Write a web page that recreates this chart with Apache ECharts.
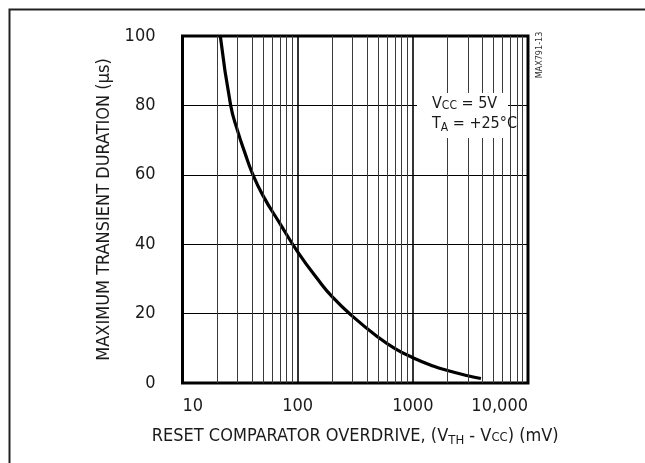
<!DOCTYPE html>
<html>
<head>
<meta charset="utf-8">
<script src="https://cdn.jsdelivr.net/npm/echarts@6/dist/echarts.min.js"></script>
<style>html,body{margin:0;padding:0;background:#fff}#c{width:645px;height:463px}</style>
</head>
<body>
<div id="c"></div>
<script>
// Data
const overdrive_mV = [21.3, 26.2, 30, 35, 40, 50, 70, 100, 150, 200, 300, 500, 700, 1000, 1500, 2000, 3000, 3900];
const duration_us  = [100, 80, 72.8, 66.1, 60.8, 54.0, 46.0, 37.8, 29.8, 24.8, 19.2, 13.2, 9.9, 7.3, 4.9, 3.6, 2.1, 1.3];
const xTickLabels = {10: '10', 100: '100', 1000: '1000', 10000: '10,000'};
const yTicks = [0, 20, 40, 60, 80, 100];
const minorX = [20,30,40,50,60,70,80,90,200,300,400,500,600,700,800,900,2000,3000,4000,5000,6000,7000,8000,9000];

const FONT = '"Liberation Sans Narrow","DejaVu Sans Condensed",sans-serif';
const chart = echarts.init(document.getElementById('c'), null, {renderer: 'canvas'});
chart.setOption({
  animation: false,
  backgroundColor: '#fff',
  grid: {left: 182.5, right: 117, top: 36, bottom: 80, show: true, borderColor: '#000', borderWidth: 3, backgroundColor: 'transparent', z: 5},
  xAxis: {
    type: 'log', logBase: 10, min: 10, max: 10000,
    axisLine: {show: false}, axisTick: {show: false},
    splitLine: {show: true, lineStyle: {color: '#000', width: 1.6}},
    axisLabel: {color: '#1a1a1a', fontFamily: FONT, fontSize: 18, margin: 14,
      alignMinLabel: 'left', alignMaxLabel: 'right',
      formatter: v => xTickLabels[Math.round(v)] || ''},
    name: 'RESET COMPARATOR OVERDRIVE, (V{sub|TH} - V{sc|CC}) (mV)',
    nameLocation: 'middle', nameGap: 43,
    nameTextStyle: {color: '#1a1a1a', fontFamily: FONT, fontSize: 18,
      rich: {sub: {fontFamily: FONT, fontSize: 13, padding: [8,0,0,0], color: '#1a1a1a'},
             sc: {fontFamily: FONT, fontSize: 13, color: '#1a1a1a', padding: [3,0,0,0]}}}
  },
  yAxis: {
    type: 'value', min: 0, max: 100, interval: 20,
    axisLine: {show: false}, axisTick: {show: false},
    splitLine: {show: true, lineStyle: {color: '#000', width: 1}},
    axisLabel: {color: '#1a1a1a', fontFamily: FONT, fontSize: 18, margin: 27,
      formatter: v => yTicks.includes(v) ? String(v) : ''},
    name: 'MAXIMUM TRANSIENT DURATION (µs)',
    nameLocation: 'middle', nameGap: 67, nameRotate: 90,
    nameTextStyle: {color: '#1a1a1a', fontFamily: FONT, fontSize: 18}
  },
  series: [
    {
      type: 'line', data: [], z: 1, silent: true,
      markLine: {
        silent: true, symbol: ['none', 'none'], label: {show: false},
        lineStyle: {color: '#3a3a3a', width: 1, type: 'solid'},
        emphasis: {disabled: true},
        data: minorX.map(v => ({xAxis: v}))
      }
    },
    {
      type: 'line', z: 3,
      data: overdrive_mV.map((x, i) => [x, duration_us[i]]),
      smooth: 0.5, showSymbol: false, symbol: 'none',
      lineStyle: {color: '#000', width: 3.2}
    }
  ],
  graphic: [
    {type: 'rect', left: 7, top: 7, shape: {width: 700, height: 500}, style: {fill: 'none', stroke: '#222', lineWidth: 2}, z: 100},
    {type: 'rect', shape: {x: 417, y: 93, width: 91, height: 45}, style: {fill: '#fff'}, z: 50},
    {type: 'text', x: 432, y: 104, z: 60, style: {text: 'V{s|CC} = 5V', fill: '#1a1a1a', font: '16px ' + FONT, verticalAlign: 'middle',
      rich: {s: {fontSize: 12, fontFamily: FONT, padding: [4,0,0,0]}}}},
    {type: 'text', x: 432, y: 124, z: 60, style: {text: 'T{s|A} = +25°C', fill: '#1a1a1a', font: '16px ' + FONT, verticalAlign: 'middle',
      rich: {s: {fontSize: 12, fontFamily: FONT, padding: [7,0,0,0]}}}},
    {type: 'text', x: 540, y: 55, rotation: Math.PI / 2, z: 60, style: {text: 'MAX791-13', fill: '#333', font: '9px ' + FONT, align: 'center', verticalAlign: 'middle'}}
  ]
});
</script>
</body>
</html>
